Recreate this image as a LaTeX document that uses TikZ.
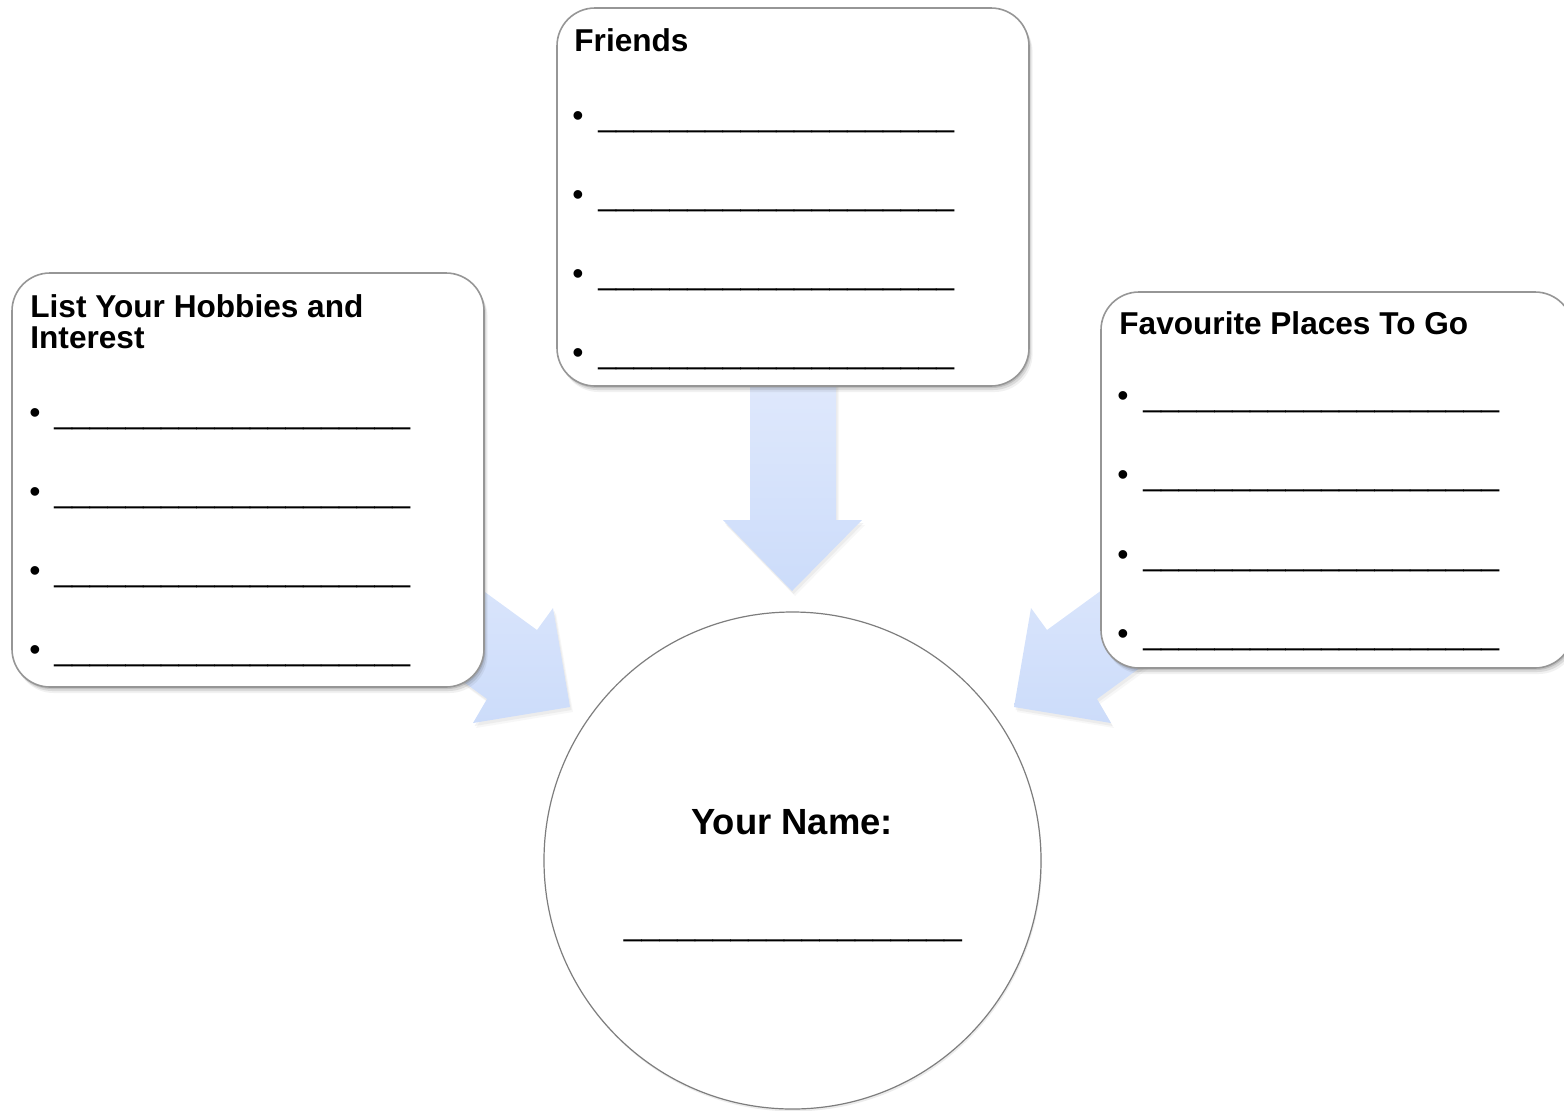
\documentclass[tikz,border=0pt]{standalone}
\usepackage{fontspec}
\setmainfont{Liberation Sans}
\usetikzlibrary{shadows}
\definecolor{arrowtop}{RGB}{224,233,252}
\definecolor{arrowbot}{RGB}{204,220,250}
\definecolor{boxline}{RGB}{150,150,150}
\definecolor{circline}{RGB}{125,125,125}
\newcommand\myblank[1]{\foreach \k in {1,...,#1}{\_}}
\begin{document}
\begin{tikzpicture}[x=0.5pt,y=-0.5pt,
  softshadow/.style={
    general shadow={shadow xshift=0.6pt, shadow yshift=-1pt, opacity=0.18, fill=black!70},
    general shadow={shadow xshift=1.2pt, shadow yshift=-2pt, opacity=0.14, fill=black!70},
    general shadow={shadow xshift=1.8pt, shadow yshift=-3pt, opacity=0.08, fill=black!70}},
  panel/.style={draw=boxline, line width=0.8pt, fill=white, rounded corners=19pt,
    inner sep=0pt, softshadow},
  blockarrow/.style={top color=arrowtop, bottom color=arrowbot, draw=none,
    general shadow={shadow xshift=0.8pt, shadow yshift=-1.5pt, opacity=0.08, fill=black!60},
    general shadow={shadow xshift=1.5pt, shadow yshift=-2.5pt, opacity=0.05, fill=black!60}},
  title/.style={font=\bfseries\fontsize{15.8}{16}\selectfont, inner sep=0pt, anchor=base west},
  bul/.style={font=\fontsize{16}{16}\selectfont, inner sep=0pt, anchor=base},
  blank/.style={font=\fontsize{16}{16}\selectfont, inner sep=0pt, anchor=base west},
]
\useasboundingbox (0,0) rectangle (1564,1110);
\clip (0,0) rectangle (1564,1110);

% block arrows
\path[blockarrow] (750,370) -- (836,370) -- (836,520) -- (862,520) -- (792,591)
  -- (723,520) -- (750,520) -- cycle;
\path[blockarrow] (375,512) -- (537,630) -- (553,608) -- (570,707) -- (473,723)
  -- (487,699) -- (325,581) -- cycle;
\path[blockarrow] (1209,512) -- (1047,630) -- (1031,608) -- (1014,707) -- (1111,723)
  -- (1097,699) -- (1259,581) -- cycle;

% panels
\node[panel, minimum width=236pt, minimum height=207pt] (hobbies) at (248,480) {};
\node[panel, minimum width=236pt, minimum height=189pt] (friends) at (793,197) {};
\node[panel, minimum width=236pt, minimum height=188pt] (places) at (1337,480) {};

% centre circle
\node[circle, draw=circline, line width=0.6pt, fill=white, minimum size=248.5pt, inner sep=0pt,
  general shadow={shadow xshift=0.5pt, shadow yshift=-1.2pt, opacity=0.12, fill=black!60}]
  (me) at (792.5,860.5) {};

% titles
\node[title] (t1a) at (30,317) {List Your Hobbies and};
\node[title] (t1b) at (30,348) {Interest};
\node[title] (t2) at (574,51) {Friends};
\node[title] (t3) at (1119,334) {Favourite Places To Go};

% bullet lines
\foreach \y [count=\i] in {423,502,581,660}{
  \node[bul] (hb\i) at (35,\y) {•};
  \node[blank] (hl\i) at (54,\y) {\myblank{20}};
}
\foreach \y [count=\i] in {126,205,284,363}{
  \node[bul] (fb\i) at (578,\y) {•};
  \node[blank] (fl\i) at (598,\y) {\myblank{20}};
}
\foreach \y [count=\i] in {406,485,565,644}{
  \node[bul] (pb\i) at (1123,\y) {•};
  \node[blank] (pl\i) at (1143,\y) {\myblank{20}};
}

% name
\node[font=\bfseries\fontsize{18.2}{19}\selectfont, inner sep=0pt, anchor=base] (yn) at (792,834) {Your Name:};
\node[font=\fontsize{16}{16}\selectfont, inner sep=0pt, anchor=base] (nl) at (793,935) {\myblank{19}};
\end{tikzpicture}
\end{document}
